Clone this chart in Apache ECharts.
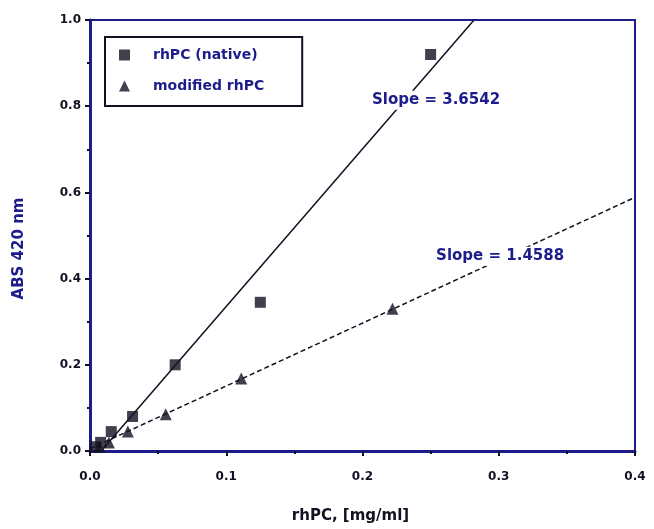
<!DOCTYPE html>
<html>
<head>
<meta charset="utf-8">
<script src="https://cdn.jsdelivr.net/npm/echarts@6/dist/echarts.min.js"></script>
<style>html,body{margin:0;padding:0;background:#fff}#c{width:654px;height:529px}</style>
</head>
<body>
<div id="c"></div>
<script>
// Data
const nativeX = [0.0039, 0.0078, 0.0156, 0.03125, 0.0625, 0.125, 0.25];
const nativeY = [0.01, 0.02, 0.045, 0.08, 0.20, 0.345, 0.92];
const modX = [0.0069, 0.0139, 0.0278, 0.0556, 0.111, 0.222];
const modY = [0.01, 0.02, 0.045, 0.085, 0.168, 0.33];
const slopes = [3.6542, 1.4588];
const intercepts = [-0.03, 0.005];
const slopeLabels = ['Slope = 3.6542', 'Slope = 1.4588'];
const xTicks = ['0.0', '0.1', '0.2', '0.3', '0.4'];
const yTicks = ['0.0', '0.2', '0.4', '0.6', '0.8', '1.0'];
const seriesNames = ['rhPC (native)', 'modified rhPC'];

const navy = '#1c1c8a';
const ink = '#111122';
const font = 'DejaVu Sans';

const nativePts = nativeX.map((x, i) => [x, nativeY[i]]);
const modPts = modX.map((x, i) => [x, modY[i]]);
// fitted lines from slopes/intercepts
const nEnd = (1.0 - intercepts[0]) / slopes[0];
const fitNative = [[-intercepts[0] / slopes[0], 0], [nEnd, 1.0]];
const fitMod = [[0, intercepts[1]], [0.4, slopes[1] * 0.4 + intercepts[1]]];

const labelStyle = {fontFamily: font, fontSize: 15, fontWeight: 'bold', color: navy,
  backgroundColor: '#fff', padding: [2, 3]};

const chart = echarts.init(document.getElementById('c'), null, {renderer: 'canvas'});
chart.setOption({
  animation: false,
  backgroundColor: '#fff',
  grid: {left: 90, right: 19, top: 20, bottom: 75, show: true, borderColor: navy, borderWidth: 2},
  legend: {
    orient: 'vertical', left: 105, top: 37,
    padding: [11, 38, 13, 14], itemGap: 17, itemWidth: 11, itemHeight: 11,
    borderColor: ink, borderWidth: 2, backgroundColor: '#fff',
    textStyle: {fontFamily: font, fontSize: 14, fontWeight: 'bold', color: navy, padding: [0, 0, 0, 18]},
    data: [
      {name: seriesNames[0], icon: 'rect'},
      {name: seriesNames[1], icon: 'triangle'}
    ]
  },
  xAxis: {
    type: 'value', min: 0, max: 0.4, interval: 0.1,
    axisLine: {show: true, onZero: false, lineStyle: {color: navy, width: 3}},
    axisTick: {show: true, length: 5, inside: false, lineStyle: {color: ink, width: 2}},
    minorTick: {show: true, splitNumber: 2, length: 3, lineStyle: {color: ink, width: 2}},
    splitLine: {show: false},
    axisLabel: {margin: 20, fontFamily: font, fontSize: 12, fontWeight: 'bold', color: ink,
      formatter: v => xTicks[Math.round(v * 10)]},
    name: 'rhPC, [mg/ml]', nameLocation: 'middle', nameGap: 58,
    nameTextStyle: {fontFamily: font, fontSize: 15, fontWeight: 'bold', color: ink, padding: [0, 24, 0, 0]}
  },
  yAxis: {
    type: 'value', min: 0, max: 1.0, interval: 0.2,
    axisLine: {show: true, onZero: false, lineStyle: {color: navy, width: 3}},
    axisTick: {show: true, length: 5, lineStyle: {color: ink, width: 2}},
    minorTick: {show: true, splitNumber: 2, length: 3, lineStyle: {color: ink, width: 2}},
    splitLine: {show: false},
    axisLabel: {margin: 9, fontFamily: font, fontSize: 12, fontWeight: 'bold', color: ink,
      formatter: v => yTicks[Math.round(v * 5)]},
    name: 'ABS 420 nm', nameLocation: 'middle', nameGap: 63,
    nameTextStyle: {fontFamily: font, fontSize: 15, fontWeight: 'bold', color: navy, padding: [0, 26, 0, 0]}
  },
  series: [
    {name: seriesNames[0], type: 'scatter', data: nativePts, symbol: 'rect', symbolSize: 11,
      itemStyle: {color: ink}, z: 5},
    {name: seriesNames[1], type: 'scatter', data: modPts, symbol: 'triangle', symbolSize: 12,
      itemStyle: {color: ink}, z: 5},
    {type: 'line', data: fitNative, symbol: 'none', silent: true,
      lineStyle: {color: ink, width: 1.5},
      markPoint: {symbol: 'circle', symbolSize: 1, itemStyle: {color: 'rgba(0,0,0,0)'},
        data: [{coord: [0.254, 0.814], label: Object.assign({show: true, position: 'inside', formatter: slopeLabels[0]}, labelStyle)}]}},
    {type: 'line', data: fitMod, symbol: 'none', silent: true,
      lineStyle: {color: ink, width: 1.5, type: [5, 3]},
      markPoint: {symbol: 'circle', symbolSize: 1, itemStyle: {color: 'rgba(0,0,0,0)'},
        data: [{coord: [0.301, 0.452], label: Object.assign({show: true, position: 'inside', formatter: slopeLabels[1]}, labelStyle)}]}}
  ]
});
</script>
</body>
</html>
